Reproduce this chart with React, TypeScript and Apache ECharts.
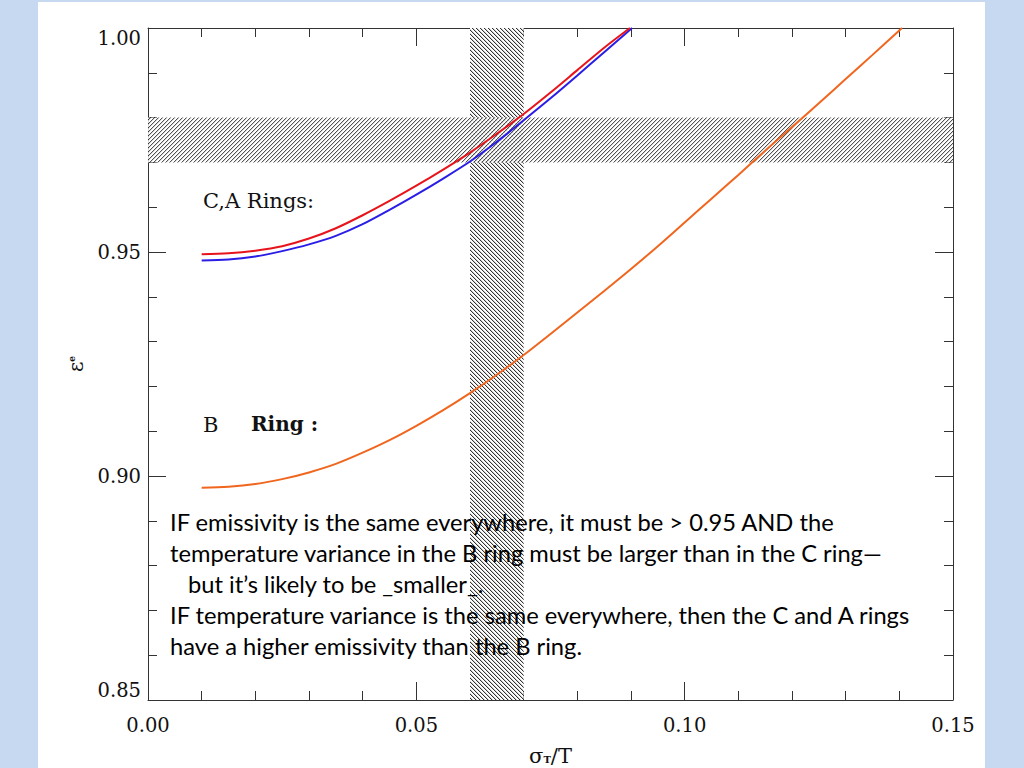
import React, { useEffect, useRef } from "react";
import * as echarts from "echarts";

// ---- data ----
const redX = [0.010, 0.015, 0.020, 0.025, 0.030, 0.035, 0.040, 0.045, 0.050, 0.055, 0.060, 0.065, 0.070, 0.075, 0.080, 0.085, 0.0898];
const redY = [0.9495, 0.9497, 0.9503, 0.9513, 0.9530, 0.9553, 0.9582, 0.9614, 0.9648, 0.9684, 0.9722, 0.9764, 0.9808, 0.9856, 0.9906, 0.9956, 1.0];
const blueX = [0.010, 0.015, 0.020, 0.025, 0.030, 0.035, 0.040, 0.045, 0.050, 0.055, 0.060, 0.065, 0.070, 0.075, 0.080, 0.085, 0.0902];
const blueY = [0.9481, 0.9483, 0.9490, 0.9502, 0.9517, 0.9536, 0.9562, 0.9594, 0.9628, 0.9664, 0.9702, 0.9746, 0.9794, 0.9843, 0.9894, 0.9946, 1.0];
const orangeX = [0.010, 0.015, 0.020, 0.025, 0.030, 0.035, 0.040, 0.045, 0.050, 0.055, 0.060, 0.065, 0.070, 0.075, 0.080, 0.085, 0.090, 0.095, 0.100, 0.105, 0.110, 0.115, 0.120, 0.125, 0.130, 0.135, 0.1405];
const orangeY = [0.8974, 0.8976, 0.8982, 0.8993, 0.9008, 0.9027, 0.9052, 0.9080, 0.9112, 0.9147, 0.9185, 0.9226, 0.9270, 0.9317, 0.9365, 0.9413, 0.9462, 0.9513, 0.9566, 0.9619, 0.9672, 0.9726, 0.9779, 0.9832, 0.9886, 0.9940, 1.0];

const xBand = [0.06, 0.07];
const yBand = [0.97, 0.98];

const xMin = 0, xMax = 0.15, xInterval = 0.05;
const yMin = 0.85, yMax = 1.0, yInterval = 0.05;

const caLabel = "C,A Rings:";
const bLabelA = "B";
const bLabelB = "Ring :";
const noteLines = [
  "IF emissivity is the same everywhere, it must be > 0.95 AND the",
  "temperature variance in the B ring must be larger than in the C ring\u2014",
  "but it\u2019s likely to be _smaller_.",
  "IF temperature variance is the same everywhere, then the C and A rings",
  "have a higher emissivity than the B ring.",
];

function makeHatch(back: boolean): string {
  const c = document.createElement("canvas");
  c.width = 4;
  c.height = 4;
  const ctx = c.getContext("2d")!;
  ctx.fillStyle = "#ffffff";
  ctx.fillRect(0, 0, 4, 4);
  for (let i = 0; i < 4; i++) {
    const x = back ? i : 3 - i;
    ctx.fillStyle = "#333333";
    ctx.fillRect(x, i, 1, 1);
    ctx.fillStyle = "#d0d0d0";
    ctx.fillRect((x + 1) % 4, i, 1, 1);
  }
  return c.toDataURL();
}

const SERIF = '"DejaVu Serif", serif';

export default function App() {
  const ref = useRef<HTMLDivElement>(null);

  useEffect(() => {
    if (!ref.current) return;
    const chart = echarts.init(ref.current, null, { renderer: "svg" });

    const backHatch = { image: makeHatch(true), repeat: "repeat", imageWidth: 4, imageHeight: 4 } as any;
    const fwdHatch = { image: makeHatch(false), repeat: "repeat", imageWidth: 4, imageHeight: 4 } as any;

    const axisLine = { show: true, onZero: false, lineStyle: { color: "#333", width: 1 } };
    const axisTick = { show: true, inside: true, length: 18, lineStyle: { color: "#333", width: 1 } };
    const minorTick = { show: true, splitNumber: 5, length: 9, lineStyle: { color: "#333", width: 1 } };
    const tickLabel = { color: "#111", fontFamily: SERIF, fontSize: 19.5 };

    const xCommon = {
      type: "value",
      min: xMin,
      max: xMax,
      interval: xInterval,
      axisLine,
      axisTick,
      minorTick,
      splitLine: { show: false },
      minorSplitLine: { show: false },
    };
    const yCommon = {
      type: "value",
      min: yMin,
      max: yMax,
      interval: yInterval,
      axisLine,
      axisTick,
      minorTick,
      splitLine: { show: false },
      minorSplitLine: { show: false },
    };

    const option: any = {
      animation: false,
      backgroundColor: "transparent",
      grid: { left: 148, top: 28, width: 805, height: 672, containLabel: false, outerBoundsMode: "none" },
      xAxis: [
        {
          ...xCommon,
          position: "bottom",
          axisLabel: { ...tickLabel, margin: 15, formatter: (v: number) => v.toFixed(2) },
          name: "{a|\u03c3}{s|T}{a|/T}",
          nameLocation: "middle",
          nameGap: 45,
          nameTextStyle: {
            rich: {
              a: { fontFamily: SERIF, fontSize: 21, color: "#111" },
              s: { fontFamily: SERIF, fontSize: 10, color: "#111", fontWeight: "bold", padding: [8, 0, 0, 0] },
            },
          },
        },
        { ...xCommon, position: "top", axisLabel: { show: false } },
      ],
      yAxis: [
        {
          ...yCommon,
          position: "left",
          axisLabel: {
            ...tickLabel,
            margin: 7,
            formatter: (v: number) => v.toFixed(2),
            verticalAlignMinLabel: "bottom",
            verticalAlignMaxLabel: "top",
          },
          name: "{a|\u03b5}{s|e}",
          nameLocation: "middle",
          nameGap: 62,
          nameRotate: 90,
          nameTextStyle: {
            rich: {
              a: { fontFamily: SERIF, fontSize: 20, color: "#111" },
              s: { fontFamily: SERIF, fontSize: 9, color: "#111", fontWeight: "bold", padding: [0, 0, 8, 0] },
            },
          },
        },
        { ...yCommon, position: "right", axisLabel: { show: false } },
      ],
      series: [
        {
          type: "line",
          name: "bands",
          data: [],
          z: 1,
          silent: true,
          markArea: {
            silent: true,
            label: { show: false },
            data: [
              [
                { xAxis: xBand[0], itemStyle: { color: backHatch, borderWidth: 0 } },
                { xAxis: xBand[1] },
              ],
              [
                { yAxis: yBand[0], itemStyle: { color: fwdHatch, borderWidth: 0, opacity: 0.85 } },
                { yAxis: yBand[1] },
              ],
            ],
          },
        },
        {
          type: "line",
          name: "B ring",
          z: 3,
          data: orangeX.map((x, i) => [x, orangeY[i]]),
          showSymbol: false,
          smooth: 0.3,
          lineStyle: { color: "#f0661e", width: 2 },
        },
        {
          type: "line",
          name: "C ring",
          z: 3,
          data: blueX.map((x, i) => [x, blueY[i]]),
          showSymbol: false,
          smooth: 0.3,
          lineStyle: { color: "#2a1ee6", width: 2 },
        },
        {
          type: "line",
          name: "A ring",
          z: 4,
          data: redX.map((x, i) => [x, redY[i]]),
          showSymbol: false,
          smooth: 0.3,
          lineStyle: { color: "#e8141c", width: 2 },
        },
      ],
      graphic: [
        {
          type: "text",
          left: 203,
          top: 190,
          z: 10,
          style: { text: caLabel, font: `21px ${SERIF}`, fill: "#111" },
        },
        {
          type: "text",
          left: 203,
          top: 414,
          z: 10,
          style: { text: bLabelA, font: `21px ${SERIF}`, fill: "#111" },
        },
        {
          type: "text",
          left: 251,
          top: 414,
          z: 10,
          style: { text: bLabelB, font: `bold 20px ${SERIF}`, fill: "#111" },
        },
        ...noteLines.map((t, i) => ({
          type: "text",
          left: i === 2 ? 188 : 170,
          top: 510 + i * 31,
          z: 10,
          style: { text: t, font: '23.7px Lato, "Open Sans", sans-serif', fill: "#000" },
        })),
      ],
    };

    chart.setOption(option);
    return () => chart.dispose();
  }, []);

  return (
    <div
      style={{
        position: "fixed",
        left: 0,
        top: 0,
        width: 1024,
        height: 768,
        background: "#c6d9f0",
        overflow: "hidden",
      }}
    >
      <div style={{ position: "absolute", left: 38, top: 2, width: 947, height: 766, background: "#ffffff" }} />
      <div ref={ref} style={{ position: "absolute", left: 0, top: 0, width: 1024, height: 768 }} />
    </div>
  );
}
